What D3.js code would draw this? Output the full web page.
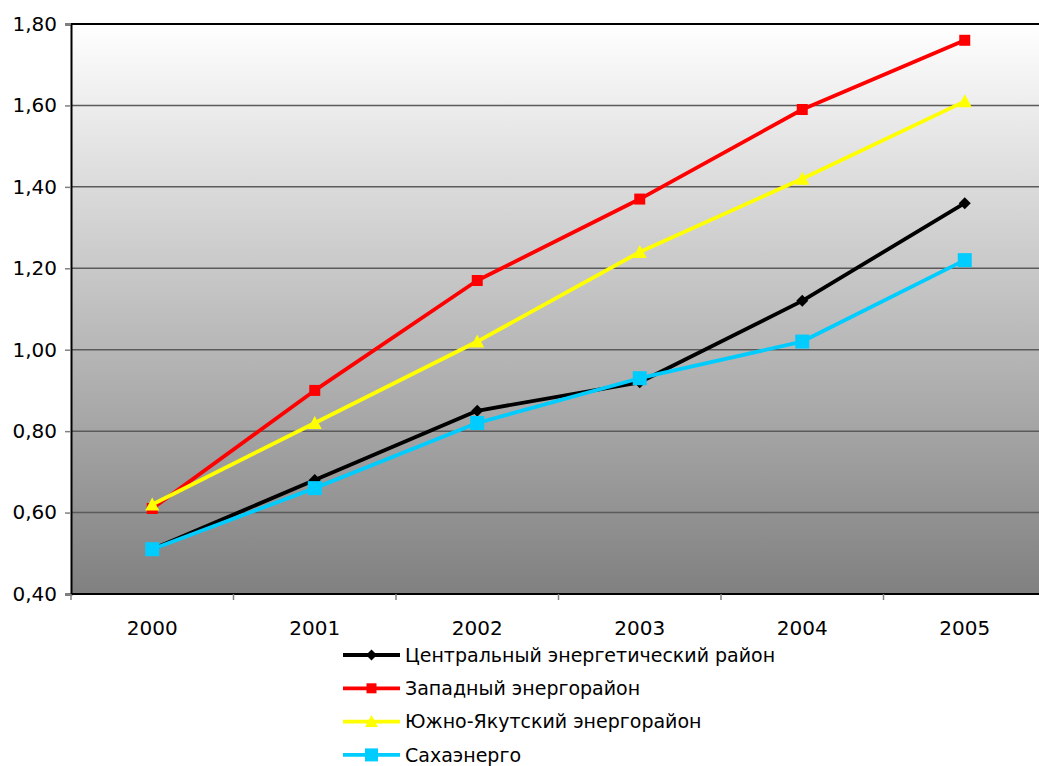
<!DOCTYPE html>
<html>
<head>
<meta charset="utf-8">
<script src="https://cdn.jsdelivr.net/npm/d3@7"></script>
<style>
  html, body { margin: 0; padding: 0; background: #fff; }
  svg { display: block; }
  text { font-family: "DejaVu Sans", Verdana, sans-serif; fill: #000; }
</style>
</head>
<body>
<svg id="chart" width="1039" height="766"></svg>
<script>
// Years on the category axis
const years = ["2000", "2001", "2002", "2003", "2004", "2005"];

// Series values by year
const central = [0.51, 0.68, 0.85, 0.92, 1.12, 1.36];
const western = [0.61, 0.90, 1.17, 1.37, 1.59, 1.76];
const southYakut = [0.62, 0.82, 1.02, 1.24, 1.42, 1.61];
const sakhaenergo = [0.51, 0.66, 0.82, 0.93, 1.02, 1.22];

const seriesNames = [
  "Центральный энергетический район",
  "Западный энергорайон",
  "Южно-Якутский энергорайон",
  "Сахаэнерго"
];

// Y axis ticks
const yTicks = [0.4, 0.6, 0.8, 1.0, 1.2, 1.4, 1.6, 1.8];

const series = [
  { name: seriesNames[0], values: central, color: "#000000", marker: "diamond", size: 12 },
  { name: seriesNames[1], values: western, color: "#ff0000", marker: "square", size: 11 },
  { name: seriesNames[2], values: southYakut, color: "#ffff00", marker: "triangle", size: 12 },
  { name: seriesNames[3], values: sakhaenergo, color: "#00ccff", marker: "square", size: 14 }
];

const svg = d3.select("#chart");
const plot = { left: 71, top: 24, right: 1046, bottom: 594 };

const x = d3.scaleBand().domain(years).range([plot.left, plot.right]);
const y = d3.scaleLinear().domain([0.4, 1.8]).range([plot.bottom, plot.top]);

// Background gradient: white at top to grey at the bottom
const defs = svg.append("defs");
const grad = defs.append("linearGradient")
  .attr("id", "bg").attr("x1", 0).attr("y1", 0).attr("x2", 0).attr("y2", 1);
grad.append("stop").attr("offset", "0%").attr("stop-color", "#ffffff");
grad.append("stop").attr("offset", "100%").attr("stop-color", "#808080");

svg.append("rect")
  .attr("x", plot.left).attr("y", plot.top)
  .attr("width", plot.right - plot.left).attr("height", plot.bottom - plot.top)
  .attr("fill", "url(#bg)");

// Horizontal grid lines
svg.append("g")
  .selectAll("line")
  .data(yTicks.slice(1, -1))
  .join("line")
  .attr("x1", plot.left).attr("x2", plot.right)
  .attr("y1", d => y(d)).attr("y2", d => y(d))
  .attr("stroke", "#5a5a5a").attr("stroke-width", 1.5);

// Top border of the plot area
svg.append("line")
  .attr("x1", plot.left).attr("x2", plot.right)
  .attr("y1", plot.top).attr("y2", plot.top)
  .attr("stroke", "#000").attr("stroke-width", 2);

// Y axis
const fmt = d => d.toFixed(2).replace(".", ",");
const yAxis = svg.append("g")
  .attr("transform", `translate(${plot.left},0)`)
  .call(d3.axisLeft(y).tickValues(yTicks).tickFormat(fmt).tickSize(6).tickPadding(8));
yAxis.select(".domain").attr("stroke", "#000").attr("stroke-width", 2);
yAxis.selectAll(".tick line").attr("stroke", "#808080").attr("stroke-width", 1.5);
yAxis.selectAll("text").attr("font-size", 20).attr("font-family", "\"DejaVu Sans\", sans-serif");

// X axis: ticks sit between categories
const xAxisG = svg.append("g").attr("transform", `translate(0,${plot.bottom})`);
xAxisG.append("line")
  .attr("x1", plot.left).attr("x2", plot.right)
  .attr("stroke", "#000").attr("stroke-width", 2);
const bounds = years.map(d => x(d)).concat([plot.right]);
xAxisG.selectAll("line.tk")
  .data(bounds)
  .join("line").attr("class", "tk")
  .attr("x1", d => d).attr("x2", d => d)
  .attr("y1", 0).attr("y2", 6)
  .attr("stroke", "#808080").attr("stroke-width", 1.5);
xAxisG.selectAll("text")
  .data(years)
  .join("text")
  .attr("x", d => x(d) + x.bandwidth() / 2)
  .attr("y", 41)
  .attr("text-anchor", "middle")
  .attr("font-size", 20)
  .text(d => d);

// Marker shapes
function markerPath(type, s) {
  const h = s / 2;
  if (type === "diamond") return `M0,${-h}L${h},0L0,${h}L${-h},0Z`;
  if (type === "square") return `M${-h},${-h}H${h}V${h}H${-h}Z`;
  if (type === "triangle") return `M0,${-h - 1}L${h + 1},${h}L${-h - 1},${h}Z`;
  return "";
}

const line = d3.line()
  .x((d, i) => x(years[i]) + x.bandwidth() / 2)
  .y(d => y(d));

series.forEach(s => {
  const g = svg.append("g");
  g.append("path")
    .attr("d", line(s.values))
    .attr("fill", "none")
    .attr("stroke", s.color)
    .attr("stroke-width", 3.8)
    .attr("stroke-linejoin", "round");
  g.selectAll("path.m")
    .data(s.values)
    .join("path").attr("class", "m")
    .attr("transform", (d, i) => `translate(${x(years[i]) + x.bandwidth() / 2},${y(d)})`)
    .attr("d", markerPath(s.marker, s.size))
    .attr("fill", s.color);
});

// Legend
const legend = svg.append("g").attr("transform", "translate(343,655)");
series.forEach((s, i) => {
  const row = legend.append("g").attr("transform", `translate(0,${i * 33.3})`);
  row.append("line")
    .attr("x1", 0).attr("x2", 57)
    .attr("stroke", s.color).attr("stroke-width", 3.8);
  row.append("path")
    .attr("transform", "translate(28.5,0)")
    .attr("d", markerPath(s.marker, s.size - 1))
    .attr("fill", s.color);
  row.append("text")
    .attr("x", 62).attr("y", 0)
    .attr("dy", "0.35em")
    .attr("font-size", 19)
    .text(s.name);
});
</script>
</body>
</html>
